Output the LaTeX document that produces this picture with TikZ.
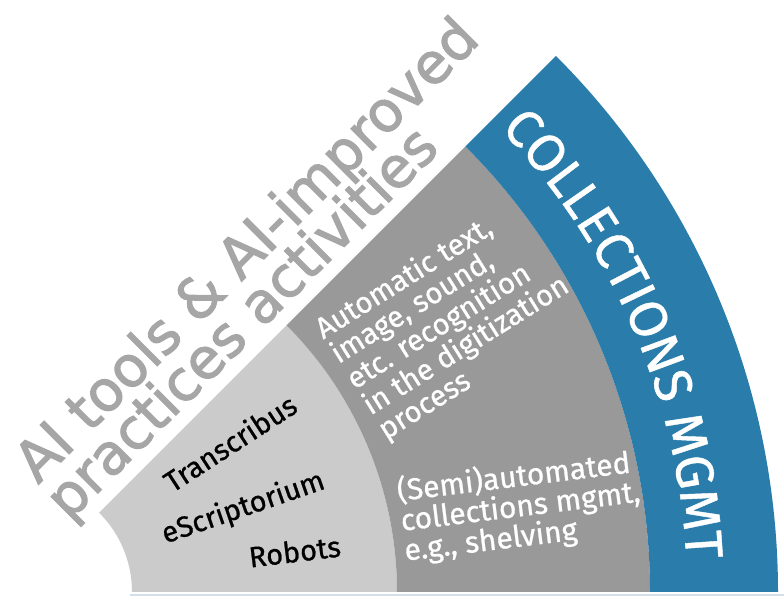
\documentclass[tikz,border=0pt]{standalone}
\usepackage{fontspec}
\setmainfont[FakeBold=0.8]{Fira Sans}
\newfontfamily\headfont[FakeBold=2]{DejaVu Sans}
\usetikzlibrary{decorations.text}

\definecolor{ringlight}{HTML}{CBCBCB}
\definecolor{ringmid}{HTML}{999999}
\definecolor{ringblue}{HTML}{2A7DAB}
\definecolor{headgray}{HTML}{A6A6A6}
\definecolor{edgeblue}{HTML}{D3DEE6}

% one band of the fan, from 0 to 45 degrees round (o)
\newcommand{\ringpart}[3]{%
  \fill[#3] ([shift={(0:#1)}]o) -- ([shift={(0:#2)}]o)
    arc[start angle=0, end angle=45, radius=#2]
    -- ([shift={(45:#1)}]o)
    arc[start angle=45, end angle=0, radius=#1] -- cycle;}

\begin{document}
\begin{tikzpicture}[x=1pt, y=1pt,
    headline/.style={text=headgray, font=\headfont\fontsize{56}{46}\selectfont,
      rotate=45, anchor=base west, inner sep=0},
    toolname/.style={font=\fontsize{29}{34}\selectfont, anchor=base, inner sep=0},
    blurb/.style={text=white, align=left, anchor=north west, inner sep=0,
      font=\fontsize{29.5}{29}\selectfont}]
  \useasboundingbox (0,0) rectangle (784,596);
  \coordinate (o) at (20,4);

  \ringpart{112}{377}{ringlight}
  \ringpart{377}{630}{ringmid}
  \ringpart{630}{758}{ringblue}
  \draw[edgeblue, line width=2] (130,1) -- (784,1);

  \node[headline] (headA) at (38,111) {AI tools \& AI-improved};
  \node[headline] (headB) at (69,74) {practices activities};

  \node[toolname, rotate=33] (transkribus) at (236,144) {Transcribus};
  \node[toolname, rotate=19] (escript) at (246,80) {eScriptorium};
  \node[toolname, rotate=7] (robots) at (296,34) {Robots};

  \node[blurb, rotate=32] (digitize) at (310.8,276)
    {Automatic text,\\image, sound,\\etc. recognition\\in the digitization\\process};
  \node[blurb, rotate=7, font=\fontsize{30}{30}\selectfont] (shelving) at (395.1,120.2)
    {(Semi)automated\\collections mgmt,\\e.g., shelving};

  \path[decorate, decoration={text along path, text align={left indent=12pt},
      text={|\fontsize{53}{53}\selectfont\color{white}|COLLECTIONS MGMT}}]
    ([shift={(45:667)}]o) arc[start angle=45, end angle=0, radius=667];
\end{tikzpicture}
\end{document}
